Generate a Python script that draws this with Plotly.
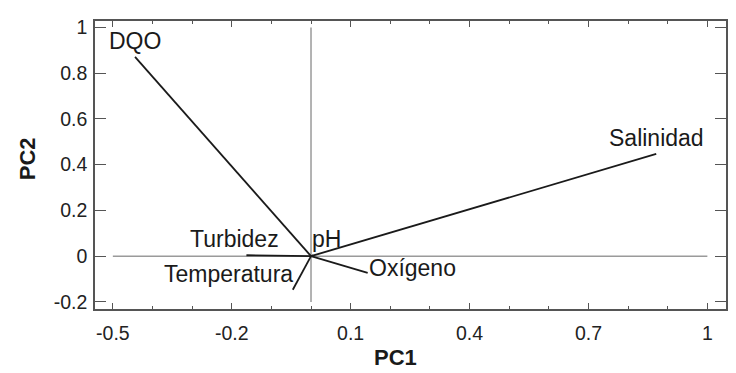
import plotly.graph_objects as go

# Data: PCA loading vectors (end points, starting at origin)
variables = ["DQO", "Salinidad", "Turbidez", "Temperatura", "Oxígeno", "pH"]
pc1 = [-0.444, 0.871, -0.163, -0.046, 0.143, 0.006]
pc2 = [0.871, 0.447, 0.004, -0.147, -0.073, 0.004]

x_tickvals = [-0.5, -0.2, 0.1, 0.4, 0.7, 1.0]
x_ticktext = ["-0.5", "-0.2", "0.1", "0.4", "0.7", "1"]
y_tickvals = [-0.2, 0, 0.2, 0.4, 0.6, 0.8, 1.0]
y_ticktext = ["-0.2", "0", "0.2", "0.4", "0.6", "0.8", "1"]

# label placement styles (pixel offsets relative to vector end)
label_style = {
    "DQO": dict(xanchor="center", yanchor="bottom", xshift=0, yshift=1),
    "Salinidad": dict(xanchor="center", yanchor="bottom", xshift=0, yshift=1),
    "Turbidez": dict(xanchor="center", yanchor="middle", xshift=-12, yshift=16),
    "Temperatura": dict(xanchor="right", yanchor="middle", xshift=2, yshift=16),
    "Oxígeno": dict(xanchor="left", yanchor="middle", xshift=-1, yshift=5),
    "pH": dict(xanchor="left", yanchor="middle", xshift=-3, yshift=16),
}

FONT = "Arial, Liberation Sans, sans-serif"
fig = go.Figure()

# reference axes lines
fig.add_trace(go.Scatter(x=[x_tickvals[0], x_tickvals[-1]], y=[0, 0], mode="lines",
                         line=dict(color="#9a9a9a", width=1.5), hoverinfo="skip", showlegend=False))
fig.add_trace(go.Scatter(x=[0, 0], y=[y_tickvals[0], y_tickvals[-1]], mode="lines",
                         line=dict(color="#9a9a9a", width=1.5), hoverinfo="skip", showlegend=False))

for name, a, b in zip(variables, pc1, pc2):
    fig.add_trace(go.Scatter(x=[0, a], y=[0, b], mode="lines",
                             line=dict(color="#1a1a1a", width=1.8), showlegend=False, name=name))
    st = label_style[name]
    fig.add_annotation(x=a, y=b, text=name, showarrow=False,
                       font=dict(family=FONT, size=23, color="#1a1a1a"), **st)

# axis titles
fig.add_annotation(xref="paper", yref="paper", x=0.476, y=0, yshift=-48, text="<b>PC1</b>",
                   showarrow=False, xanchor="center", yanchor="middle",
                   font=dict(family=FONT, size=22, color="#1a1a1a"))
fig.add_annotation(xref="paper", yref="paper", x=0, y=0.52, xshift=-68, text="<b>PC2</b>",
                   showarrow=False, textangle=-90, xanchor="center", yanchor="middle",
                   font=dict(family=FONT, size=22, color="#1a1a1a"))

fig.update_xaxes(range=[-0.545, 1.047], tickvals=x_tickvals, ticktext=x_ticktext,
                 ticks="inside", ticklen=6, tickcolor="#555", tickwidth=1.2,
                 minor=dict(dtick=0.1, tick0=-0.5, ticks="inside", ticklen=3, tickcolor="#555", showgrid=False),
                 showline=True, linecolor="#555", linewidth=1.5, mirror="allticks",
                 showgrid=False, zeroline=False,
                 tickfont=dict(family=FONT, size=19.5, color="#222"), ticklabelstandoff=6)
fig.update_yaxes(range=[-0.231, 1.028], tickvals=y_tickvals, ticktext=y_ticktext,
                 ticks="inside", ticklen=11, tickcolor="#555", tickwidth=1.2,
                 showline=True, linecolor="#555", linewidth=1.5, mirror="allticks",
                 showgrid=False, zeroline=False,
                 tickfont=dict(family=FONT, size=19.5, color="#222"), ticklabelstandoff=2)

# page body has an 8px default margin, so the figure is shifted by 8px
fig.update_layout(width=728, height=365, margin=dict(l=87, r=8, t=9, b=64),
                  paper_bgcolor="white", plot_bgcolor="white", showlegend=False)

fig.write_html("out.html")
